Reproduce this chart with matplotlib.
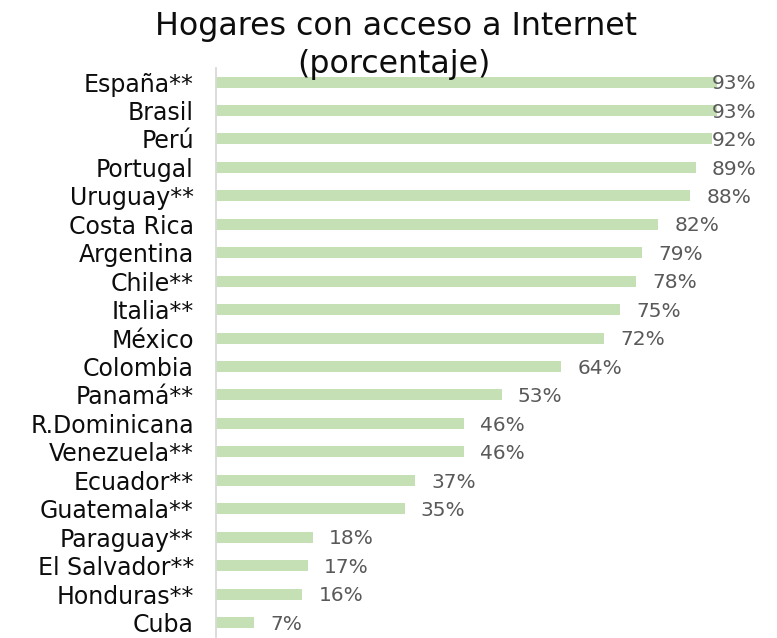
import matplotlib
matplotlib.use("Agg")
import matplotlib.pyplot as plt

countries = ["España**", "Brasil", "Perú", "Portugal", "Uruguay**", "Costa Rica",
             "Argentina", "Chile**", "Italia**", "México", "Colombia", "Panamá**",
             "R.Dominicana", "Venezuela**", "Ecuador**", "Guatemala**", "Paraguay**",
             "El Salvador**", "Honduras**", "Cuba"]
values = [93, 93, 92, 89, 88, 82, 79, 78, 75, 72, 64, 53, 46, 46, 37, 35, 18, 17, 16, 7]
title_lines = ["Hogares con acceso a Internet", "(porcentaje)"]

plt.rcParams['font.family'] = ['DejaVu Sans']

W, H = 777, 638
fig = plt.figure(figsize=(W / 100, H / 100), dpi=100)
ax = fig.add_axes([216 / W, 1.2 / H, 539 / W, 569 / H])

ypos = list(range(len(countries)))
ax.barh(ypos, values, height=0.385, color="#c5e0b4")
ax.set_ylim(len(countries) - 0.5, -0.5)
ax.set_xlim(0, 100)
ax.set_yticks(ypos)
ax.set_yticklabels(countries, fontsize=17, color="#0d0d0d")
ax.tick_params(axis='y', length=0, pad=16)
ax.set_xticks([])
for s in ["top", "right", "bottom"]:
    ax.spines[s].set_visible(False)
ax.spines["left"].set_color("#d9d9d9")
ax.spines["left"].set_linewidth(1.3)

for y, v in zip(ypos, values):
    x = min(v + 3.0, 91.9)
    ax.text(x, y + 0.06, f"{v}%", va="center", ha="left", fontsize=14.5, color="#595959",
            clip_on=False)

fig.text(396 / W, 1 - 35 / H, title_lines[0], ha="center", va="baseline",
         fontsize=22.8, color="#0d0d0d")
fig.text(394 / W, 1 - 73 / H, title_lines[1], ha="center", va="baseline",
         fontsize=22.8, color="#0d0d0d")

fig.savefig("out.png", dpi=100)
